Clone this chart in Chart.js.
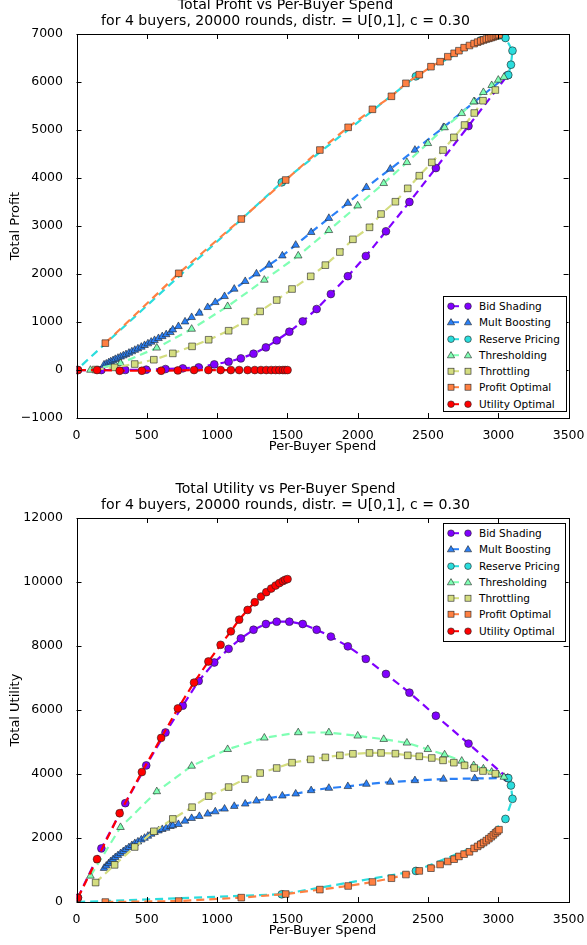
<!DOCTYPE html>
<html>
<head>
<meta charset="utf-8">
<script src="https://cdn.jsdelivr.net/npm/chart.js@4.4.0/dist/chart.umd.min.js"></script>
<style>
  html, body { margin: 0; padding: 0; background: #fff; }
  body { width: 587px; height: 945px; position: relative; overflow: hidden; font-family: 'DejaVu Sans', sans-serif; }
  .plot { position: absolute; left: 0; width: 587px; height: 463px; }
  .legend { position: absolute; background: #fff; border: 1px solid #000; box-sizing: border-box; font-size: 10.5px; padding-top: 1px; }
  .legend .row { position: relative; height: 16.3px; line-height: 16.3px; white-space: nowrap; color: #000; }
  .legend svg { position: absolute; left: 0; top: 0; }
  .legend span { position: absolute; left: 35px; }
</style>
</head>
<body>
<div class="plot" style="top:-2.55px"><canvas id="profitChart"></canvas></div>
<div class="plot" style="top:481.45px"><canvas id="utilityChart"></canvas></div>
<div class="legend" id="profitLegend" style="left:443px;top:296px;width:124px;height:116px"></div>
<div class="legend" id="utilityLegend" style="left:443px;top:523px;width:123px;height:119px"></div>
<script>
// values
const seriesNames = ['Bid Shading', 'Mult Boosting', 'Reserve Pricing', 'Thresholding', 'Throttling', 'Profit Optimal', 'Utility Optimal'];

const bidShadingSpend = [10, 177, 347, 496, 633, 756, 869, 980, 1082, 1169, 1259, 1347, 1424, 1514, 1609, 1708, 1809, 1930, 2058, 2201, 2368, 2556, 2788, 3066];
const bidShadingProfit = [0, 0, 2, 8, 21, 35, 56, 118, 174, 243, 340, 472, 618, 799, 1014, 1271, 1583, 1955, 2375, 2890, 3500, 4208, 5083, 6140];
const bidShadingUtility = [140, 1676, 3090, 4270, 5297, 6135, 6908, 7485, 7912, 8238, 8509, 8688, 8760, 8760, 8688, 8509, 8295, 7990, 7598, 7127, 6543, 5821, 4951, 3874];

const multBoostingSpend = [196, 212, 229, 243, 260, 276, 295, 314, 333, 352, 373, 394, 415, 437, 461, 484, 508, 531, 555, 583, 610, 638, 668, 685, 725, 772, 819, 874, 933, 987, 1053, 1122, 1200, 1280, 1370, 1464, 1559, 1669, 1795, 1930, 2062, 2232, 2407, 2610, 2832, 3066];
const multBoostingProfit = [110, 130, 155, 175, 200, 225, 250, 275, 300, 325, 355, 385, 415, 445, 480, 515, 550, 585, 620, 660, 700, 740, 785, 840, 910, 1006, 1098, 1188, 1306, 1410, 1535, 1688, 1848, 2006, 2188, 2381, 2604, 2869, 3163, 3476, 3806, 4188, 4583, 5056, 5590, 6140];
const multBoostingUtility = [1058, 1130, 1205, 1268, 1331, 1394, 1457, 1520, 1582, 1645, 1708, 1771, 1834, 1884, 1947, 2000, 2063, 2126, 2179, 2229, 2273, 2314, 2367, 2390, 2430, 2534, 2618, 2681, 2754, 2826, 2911, 2995, 3068, 3162, 3246, 3319, 3382, 3486, 3560, 3615, 3686, 3749, 3799, 3843, 3862, 3874];

const reservePricingSpend = [3071, 3090, 3101, 3051, 2877, 2414, 1460, 0];
const reservePricingProfit = [6146, 6360, 6652, 6917, 6869, 6118, 3910, 0];
const reservePricingUtility = [3874, 3642, 3225, 2597, 1812, 973, 242, 0];

const thresholdingSpend = [99, 313, 571, 819, 1075, 1336, 1577, 1795, 2000, 2185, 2350, 2499, 2618, 2740, 2825, 2894, 2953, 3000, 3040];
const thresholdingProfit = [0, 140, 462, 854, 1327, 1875, 2381, 2910, 3423, 3889, 4326, 4722, 5050, 5347, 5590, 5785, 5930, 6042, 6100];
const thresholdingUtility = [816, 2336, 3454, 4251, 4772, 5130, 5297, 5297, 5193, 5087, 4973, 4772, 4606, 4408, 4270, 4166, 4063, 3978, 3905];

const throttlingSpend = [136, 271, 414, 550, 685, 822, 940, 1082, 1198, 1306, 1424, 1533, 1666, 1770, 1873, 1966, 2084, 2166, 2268, 2356, 2438, 2527, 2607, 2684, 2760, 2829, 2891, 2979];
const throttlingProfit = [10, 56, 125, 215, 347, 493, 631, 819, 1014, 1222, 1458, 1688, 1952, 2185, 2458, 2723, 2973, 3250, 3506, 3785, 4048, 4326, 4583, 4847, 5104, 5354, 5611, 5833];
const throttlingUtility = [609, 1162, 1720, 2210, 2597, 2964, 3309, 3592, 3843, 4031, 4188, 4355, 4458, 4521, 4584, 4632, 4659, 4659, 4637, 4584, 4553, 4502, 4427, 4355, 4270, 4188, 4094, 4010];

const profitOptimalSpend = [205, 727, 1172, 1488, 1731, 1932, 2105, 2240, 2343, 2438, 2521, 2586, 2641, 2686, 2720, 2757, 2795, 2828, 2853, 2875, 2896, 2915, 2933, 2950, 2965, 2980, 2993, 3005];
const profitOptimalProfit = [560, 2015, 3146, 3958, 4583, 5056, 5431, 5702, 5973, 6152, 6319, 6423, 6527, 6598, 6652, 6715, 6760, 6800, 6830, 6855, 6875, 6895, 6910, 6925, 6940, 6955, 6970, 6985];
const profitOptimalUtility = [0, 31, 138, 251, 389, 502, 628, 744, 860, 973, 1058, 1174, 1268, 1340, 1425, 1497, 1570, 1677, 1739, 1800, 1860, 1920, 1980, 2040, 2100, 2160, 2210, 2260];

const utilityOptimalSpend = [10, 146, 307, 465, 602, 721, 836, 938, 1025, 1098, 1157, 1217, 1268, 1312, 1350, 1385, 1416, 1443, 1468, 1484, 1501];
const utilityOptimalProfit = [0, 0, -15, -15, -15, -8, 0, 0, 0, 0, 0, 0, 0, 0, 0, 0, 0, 0, 0, 0, 0];
const utilityOptimalUtility = [130, 1341, 2775, 4062, 5130, 6050, 6857, 7516, 8038, 8458, 8823, 9127, 9368, 9545, 9683, 9796, 9890, 9966, 10028, 10069, 10091];

const xTicks = [0, 500, 1000, 1500, 2000, 2500, 3000, 3500];
const profitTicks = [-1000, 0, 1000, 2000, 3000, 4000, 5000, 6000, 7000];
const utilityTicks = [0, 2000, 4000, 6000, 8000, 10000, 12000];

const spends = [bidShadingSpend, multBoostingSpend, reservePricingSpend, thresholdingSpend, throttlingSpend, profitOptimalSpend, utilityOptimalSpend];
const profits = [bidShadingProfit, multBoostingProfit, reservePricingProfit, thresholdingProfit, throttlingProfit, profitOptimalProfit, utilityOptimalProfit];
const utilities = [bidShadingUtility, multBoostingUtility, reservePricingUtility, thresholdingUtility, throttlingUtility, profitOptimalUtility, utilityOptimalUtility];

const colors = ['#8000ff', '#2b80f6', '#2bdddd', '#80ffb4', '#d4dd80', '#ff8042', '#ff0000'];
const shapes = ['circle', 'triangle', 'circle', 'triangle', 'rect', 'rect', 'circle'];
const radius = { circle: 3.9, triangle: 4.4, rect: 4.7 };

Chart.defaults.font.family = "'DejaVu Sans', sans-serif";
Chart.defaults.color = '#000';

const fmt = v => v < 0 ? '\u2212' + Math.abs(v) : String(v);

// matplotlib-style box with inward ticks on all four sides
const frame = {
  id: 'frame',
  afterDatasetsDraw(chart) {
    const { ctx, chartArea: a, scales: { x, y } } = chart;
    ctx.save();
    ctx.strokeStyle = '#000';
    ctx.lineWidth = 1;
    ctx.beginPath();
    x.ticks.forEach(t => {
      const px = Math.round(x.getPixelForValue(t.value)) + 0.5;
      ctx.moveTo(px, a.bottom); ctx.lineTo(px, a.bottom - 5);
      ctx.moveTo(px, a.top); ctx.lineTo(px, a.top + 5);
    });
    y.ticks.forEach(t => {
      const py = Math.round(y.getPixelForValue(t.value)) + 0.5;
      ctx.moveTo(a.left, py); ctx.lineTo(a.left + 5, py);
      ctx.moveTo(a.right, py); ctx.lineTo(a.right - 5, py);
    });
    ctx.stroke();
    ctx.strokeRect(Math.round(a.left) + 0.5, Math.round(a.top) + 0.5, Math.round(a.right - a.left), Math.round(a.bottom - a.top));
    ctx.restore();
  }
};

const makeChart = (id, yValues, yTicks, yTitle, title) => {
  const datasets = seriesNames.map((name, i) => ({
    label: name,
    data: spends[i].map((x, k) => ({ x, y: yValues[i][k] })),
    showLine: true,
    borderColor: colors[i],
    borderWidth: 2.2,
    borderDash: [8, 5],
    pointStyle: shapes[i],
    pointRadius: radius[shapes[i]],
    pointBackgroundColor: colors[i],
    pointBorderColor: '#222',
    pointBorderWidth: 0.6,
    clip: 0,
    order: seriesNames.length - i,
  }));

  return new Chart(document.getElementById(id), {
    type: 'scatter',
    data: { datasets },
    options: {
      responsive: true,
      maintainAspectRatio: false,
      animation: false,
      events: [],
      layout: { padding: { left: 0, right: 16, top: 0, bottom: 0 } },
      plugins: {
        legend: { display: false },
        tooltip: { enabled: false },
        title: {
          display: true,
          text: title,
          color: '#000',
          font: { size: 14.1, weight: 'normal', lineHeight: 1.14 },
          padding: { top: 0, bottom: 4.85 },
        },
      },
      scales: {
        x: {
          type: 'linear',
          min: xTicks[0],
          max: xTicks[xTicks.length - 1],
          afterFit: s => { s.height = 41.95; },
          afterBuildTicks: s => { s.ticks = xTicks.map(value => ({ value })); },
          grid: { display: false },
          border: { display: false },
          ticks: { font: { size: 12.5 }, color: '#000', padding: 2.5, maxRotation: 0, autoSkip: false, callback: fmt },
          title: { display: true, text: 'Per-Buyer Spend', font: { size: 13 }, color: '#000', padding: { top: 0, bottom: 5.65 } },
        },
        y: {
          type: 'linear',
          min: yTicks[0],
          max: yTicks[yTicks.length - 1],
          afterFit: s => { s.width = 76.5; },
          afterBuildTicks: s => { s.ticks = yTicks.map(value => ({ value })); },
          grid: { display: false },
          border: { display: false },
          ticks: { font: { size: 12.5 }, color: '#000', padding: 5.5, autoSkip: false, callback: fmt },
          title: { display: true, text: yTitle, font: { size: 13 }, color: '#000', padding: { top: 8.2, bottom: 0 } },
        },
      },
    },
    plugins: [frame],
  });
};

makeChart('profitChart', profits, profitTicks, 'Total Profit',
  ['Total Profit vs Per-Buyer Spend', 'for 4 buyers, 20000 rounds, distr. = U[0,1], c = 0.30']);
makeChart('utilityChart', utilities, utilityTicks, 'Total Utility',
  ['Total Utility vs Per-Buyer Spend', 'for 4 buyers, 20000 rounds, distr. = U[0,1], c = 0.30']);

// legend boxes drawn as html, line + two markers like matplotlib
const markerSvg = (shape, color, cx) => {
  const edge = 'stroke="#222" stroke-width="0.6"';
  if (shape === 'circle') return `<circle cx="${cx}" cy="8.2" r="3.3" fill="${color}" ${edge}/>`;
  if (shape === 'rect') return `<rect x="${cx - 3}" y="5.2" width="6" height="6" fill="${color}" ${edge}/>`;
  return `<polygon points="${cx},4.6 ${cx + 3.6},10.8 ${cx - 3.6},10.8" fill="${color}" ${edge}/>`;
};

const fillLegend = id => {
  const box = document.getElementById(id);
  box.innerHTML = seriesNames.map((name, i) => `
    <div class="row">
      <svg width="32" height="16.3">
        <line x1="7" y1="8.2" x2="24" y2="8.2" stroke="${colors[i]}" stroke-width="2" stroke-dasharray="8,10"/>
        ${markerSvg(shapes[i], colors[i], 7)}
        ${markerSvg(shapes[i], colors[i], 24)}
      </svg>
      <span>${name}</span>
    </div>`).join('');
};

fillLegend('profitLegend');
fillLegend('utilityLegend');
</script>
</body>
</html>
